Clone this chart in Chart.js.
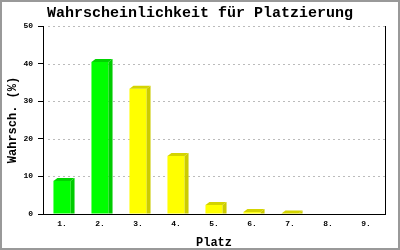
<!DOCTYPE html>
<html><head><meta charset="utf-8">
<script src="https://cdn.jsdelivr.net/npm/chart.js@4/dist/chart.umd.min.js"></script>
<style>html,body{margin:0;padding:0;background:#fff;}canvas{display:block;}</style>
</head><body>
<canvas id="c" width="400" height="250"></canvas>
<script>
const categories = ['1.', '2.', '3.', '4.', '5.', '6.', '7.', '8.', '9.'];
const values = [8.8, 40.4, 33.3, 15.4, 2.4, 0.5, 0.15, 0, 0];
const frontColors = ['#00ff00', '#00ff00', '#ffff00', '#ffff00', '#ffff00', '#ffff00', '#ffff00', '#ffff00', '#ffff00'];
const sideColors = ['#00cc00', '#00cc00', '#cccc00', '#cccc00', '#cccc00', '#cccc00', '#cccc00', '#cccc00', '#cccc00'];
const topColors = ['#00d400', '#00d400', '#d4d400', '#d4d400', '#d4d400', '#d4d400', '#d4d400', '#d4d400', '#d4d400'];
const yTicks = [0, 10, 20, 30, 40, 50];
const titleText = 'Wahrscheinlichkeit für Platzierung';
const xTitle = 'Platz';
const yTitle = 'Wahrsch. (%)';

const MONO = '"Liberation Mono", "DejaVu Sans Mono", monospace';

const decor = {
  id: 'decor',
  beforeDraw(chart) {
    const ctx = chart.ctx;
    ctx.save();
    ctx.fillStyle = '#fff';
    ctx.fillRect(0, 0, chart.width, chart.height);
    ctx.restore();
  },
  beforeDatasetsDraw(chart) {
    const ctx = chart.ctx, a = chart.chartArea, ys = chart.scales.y;
    ctx.save();
    ctx.strokeStyle = '#bbbbbb';
    ctx.lineWidth = 1;
    ctx.setLineDash([2, 3]);
    yTicks.forEach(v => {
      if (v === 0) return;
      const py = Math.round(ys.getPixelForValue(v)) + 0.5;
      ctx.beginPath();
      ctx.moveTo(a.left + 5, py);
      ctx.lineTo(a.right, py);
      ctx.stroke();
    });
    ctx.setLineDash([]);
    ctx.strokeStyle = '#000';
    const rx = Math.round(a.right) + 0.5;
    ctx.beginPath();
    ctx.moveTo(rx, Math.round(a.top));
    ctx.lineTo(rx, Math.round(a.bottom));
    ctx.stroke();
    ctx.restore();
  },
  afterDatasetsDraw(chart) {
    const ctx = chart.ctx;
    const meta = chart.getDatasetMeta(0);
    const dx = 4, dy = 3;
    ctx.save();
    meta.data.forEach((bar, i) => {
      if (!values[i]) return;
      const p = bar.getProps(['x', 'y', 'base', 'width'], true);
      const l = p.x - p.width / 2, r = p.x + p.width / 2, t = p.y, b = p.base;
      ctx.fillStyle = sideColors[i];
      ctx.beginPath();
      ctx.moveTo(r, t); ctx.lineTo(r + dx, t - dy); ctx.lineTo(r + dx, b); ctx.lineTo(r, b);
      ctx.closePath(); ctx.fill();
      ctx.fillStyle = topColors[i];
      ctx.beginPath();
      ctx.moveTo(l, t); ctx.lineTo(l + dx, t - dy); ctx.lineTo(r + dx, t - dy); ctx.lineTo(r, t);
      ctx.closePath(); ctx.fill();
    });
    ctx.restore();
  },
  afterDraw(chart) {
    const ctx = chart.ctx;
    ctx.save();
    ctx.strokeStyle = '#999999';
    ctx.lineWidth = 2;
    ctx.strokeRect(1, 1, chart.width - 2, chart.height - 2);
    ctx.restore();
  }
};

new Chart(document.getElementById('c'), {
  type: 'bar',
  data: {
    labels: categories,
    datasets: [{
      data: values,
      backgroundColor: frontColors,
      borderWidth: 0,
      barPercentage: 0.45,
      categoryPercentage: 1.0
    }]
  },
  options: {
    responsive: false,
    devicePixelRatio: 1,
    animation: false,
    events: [],
    layout: { padding: { left: 2, right: 2, top: 0, bottom: 0 } },
    plugins: {
      legend: { display: false },
      tooltip: { enabled: false },
      title: {
        display: true,
        text: titleText,
        color: '#000',
        font: { family: MONO, size: 15, weight: 'bold' },
        padding: { top: 4, bottom: 4 }
      }
    },
    scales: {
      x: {
        grid: { display: false, drawTicks: false },
        border: { display: true, color: '#000', width: 1 },
        ticks: { color: '#000', font: { family: MONO, size: 8, weight: 'bold' }, padding: 5, maxRotation: 0 },
        title: { display: true, text: xTitle, color: '#000', font: { family: MONO, size: 12, weight: 'bold' }, padding: { top: 4, bottom: 0 } },
        afterFit(s) { s.height = 36; }
      },
      y: {
        min: 0, max: 50,
        afterBuildTicks(s) { s.ticks = yTicks.map(v => ({ value: v })); },
        grid: { display: true, drawOnChartArea: false, drawTicks: true, tickLength: 5, tickColor: '#000', color: '#000' },
        border: { display: true, color: '#000', width: 1 },
        ticks: { color: '#000', font: { family: MONO, size: 8, weight: 'bold' }, padding: 5 },
        title: { display: true, text: yTitle, color: '#000', font: { family: MONO, size: 12, weight: 'bold' }, padding: { top: 4, bottom: 0 } },
        afterFit(s) { s.width = 41; }
      },
      yRight: {
        position: 'right',
        min: 0, max: 50,
        grid: { display: false, drawTicks: false },
        border: { display: false },
        ticks: { display: false },
        afterFit(s) { s.width = 13; }
      }
    }
  },
  plugins: [decor]
});
</script>
</body></html>
